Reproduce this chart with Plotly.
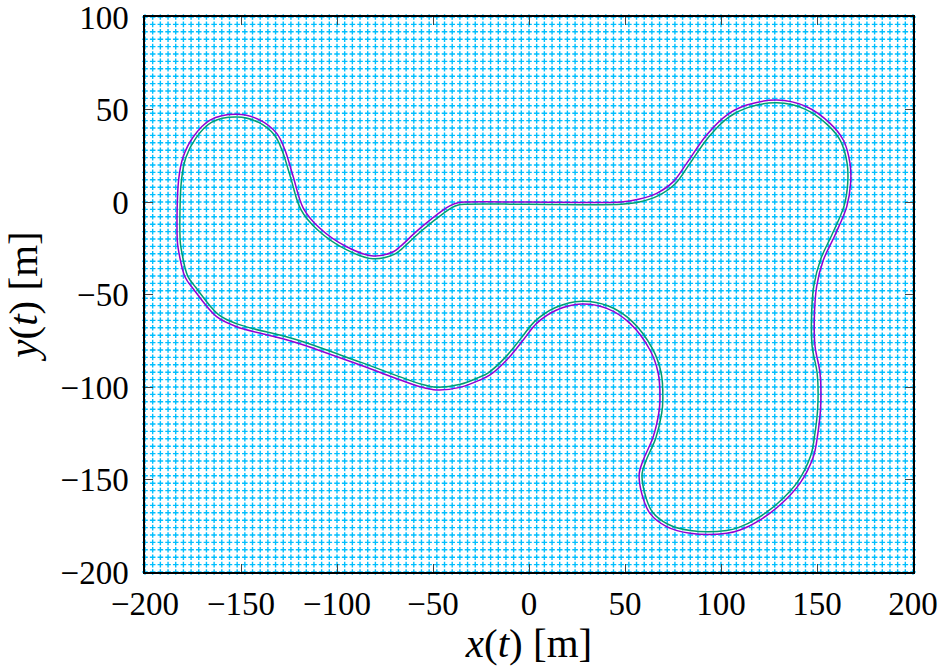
import plotly.graph_objects as go

# Outer track edge (purple) [m]
outer_x = [48.0, 0.0, -32.0, -37.0, -41.0, -44.6, -57.7, -67.2, -70.7, -81.1, -95.0, -108.9, -117.5,
           -122.8, -127.1, -131.4, -140.1, -152.2, -166.1, -174.8, -180.1, -182.5, -183.2, -182.6,
           -179.2, -174.8, -162.7, -152.2, -122.8, -88.0, -56.8, -48.1, -36.0, -25.5, -20.3, -11.6,
           -3.0, 4.0, 14.4, 27.4, 40.5, 52.6, 63.0, 67.3, 68.2, 67.6, 64.7, 59.5, 57.4, 58.7, 63.0,
           71.7, 83.9, 103.0, 109.9, 120.3, 130.7, 141.1, 148.1, 150.2, 151.9, 151.6, 149.0, 148.6,
           149.8, 153.3, 159.4, 165.5, 167.5, 167.2, 163.7, 156.8, 144.6, 129.0, 113.4, 103.0, 92.5,
           82.1, 75.2, 66.5, 57.0, 48.0]
outer_y = [0.0, 0.0, 0.0, -0.4, -2.0, -4.3, -15.1, -24.2, -26.9, -29.2, -24.2, -14.2, -3.4,
           13.7, 28.1, 37.1, 44.3, 47.4, 44.3, 35.3, 24.5, 11.9, -20.5, -25.9,
           -40.4, -47.0, -62.0, -67.4, -75.5, -88.1, -99.8, -101.6, -100.2, -96.2, -93.5, -85.4,
           -74.6, -65.6, -58.4, -55.1, -57.5, -65.6, -80.0, -92.6, -107.0, -114.0, -126.9, -139.5,
           -146.7, -157.5, -168.3, -175.5, -179.1, -179.1, -177.3, -171.9, -163.8, -152.1, -137.7,
           -126.9, -110.6, -92.6, -78.2, -63.8, -45.8, -31.4, -17.8, -2.5, 10.1, 20.9, 33.5, 42.5,
           51.5, 55.1, 52.4, 47.0, 36.2, 20.9, 11.0, 4.7, 1.5, 0.0]

# Inner track edge (green) [m]
inner_x = [48.0, 0.0, -32.5, -36.8, -40.4, -43.7, -56.7, -66.2, -70.2, -81.3, -95.7, -109.9, -118.8,
           -124.2, -128.5, -132.6, -140.8, -152.2, -165.4, -173.6, -178.7, -181.0, -181.7, -181.1,
           -177.8, -173.6, -161.7, -151.7, -122.3, -87.5, -56.3, -48.1, -36.3, -26.1, -21.2, -12.7,
           -4.2, 3.0, 13.8, 27.4, 41.1, 53.7, 64.3, 68.8, 69.7, 69.1, 66.1, 60.9, 58.9, 60.2, 64.2,
           72.4, 83.9, 102.9, 109.3, 119.5, 129.7, 139.9, 146.7, 148.7, 150.4, 150.1, 147.5, 147.1,
           148.3, 151.9, 158.0, 164.1, 166.0, 165.7, 162.3, 155.8, 144.0, 129.0, 113.9, 103.9, 93.7,
           83.3, 76.3, 67.1, 57.5, 48.0]
inner_y = [-1.2, -1.2, -1.2, -1.6, -3.2, -5.5, -16.2, -25.3, -28.3, -30.7, -25.5, -15.3, -4.1,
           13.3, 27.6, 36.2, 43.0, 45.9, 43.0, 34.4, 24.0, 11.8, -20.5, -25.6,
           -39.9, -46.1, -60.9, -66.0, -74.1, -86.7, -98.4, -100.1, -98.7, -94.8, -92.3, -84.4,
           -73.7, -64.5, -57.0, -53.6, -56.1, -64.5, -79.3, -92.3, -107.0, -114.2, -127.4, -140.0,
           -146.8, -157.1, -167.4, -174.2, -177.6, -177.6, -175.9, -170.6, -162.7, -151.3, -137.2,
           -126.7, -110.5, -92.7, -78.4, -63.8, -45.6, -30.9, -17.2, -2.1, 10.2, 20.7, 32.9, 41.4,
           50.1, 53.6, 51.0, 45.8, 35.3, 20.1, 10.0, 3.3, 0.0, -1.2]

# Background lattice of points (every 4 m)
grid_x_vals = list(range(-200, 201, 4))
grid_y_vals = list(range(-200, 101, 4))

x_ticks = [-200, -150, -100, -50, 0, 50, 100, 150, 200]
y_ticks = [-200, -150, -100, -50, 0, 50, 100]

gx = [x for y in grid_y_vals for x in grid_x_vals]
gy = [y for y in grid_y_vals for x in grid_x_vals]

fig = go.Figure()
fig.add_trace(go.Scatter(
    x=gx, y=gy, mode="markers", cliponaxis=False,
    marker=dict(symbol="cross-thin", size=4, line=dict(width=1.4, color="#00BFFF"), color="#00BFFF"),
    hoverinfo="skip", showlegend=False,
))
fig.add_trace(go.Scatter(x=outer_x, y=outer_y, mode="lines",
                         line=dict(color="#9400D3", width=1.5, shape="spline", smoothing=1.0),
                         showlegend=False))
fig.add_trace(go.Scatter(x=inner_x, y=inner_y, mode="lines",
                         line=dict(color="#009E73", width=1.5, shape="spline", smoothing=1.0),
                         showlegend=False))

font_family = "Liberation Serif"
tick_size = 33
title_size = 41
axis_common = dict(
    showgrid=False, zeroline=False, showline=True, linecolor="black", linewidth=1.5,
    mirror="allticks", ticks="inside", ticklen=8, tickwidth=1, tickcolor="#444",
    automargin=False, ticklabeloverflow="allow",
    tickfont=dict(family=font_family, size=tick_size, color="black"),
)
fig.update_xaxes(range=[-200, 200], tickvals=x_ticks, **axis_common, ticklabelstandoff=2,
                 title=dict(text="<i>x</i>(<i>t</i>) [m]",
                            font=dict(family=font_family, size=title_size, color="black"),
                            standoff=0))
fig.update_yaxes(range=[-200, 100], tickvals=y_ticks, **axis_common, ticklabelstandoff=8,
                 title=dict(text="<i>y</i>(<i>t</i>) [m]",
                            font=dict(family=font_family, size=title_size, color="black"),
                            standoff=16))
fig.update_layout(
    width=939, height=666,
    margin=dict(l=145, r=26, t=17, b=94),
    plot_bgcolor="white", paper_bgcolor="white",
)
fig.write_html("out.html", config={"displayModeBar": False},
               post_script="document.body.style.margin='0px';document.body.style.overflow='hidden';")
